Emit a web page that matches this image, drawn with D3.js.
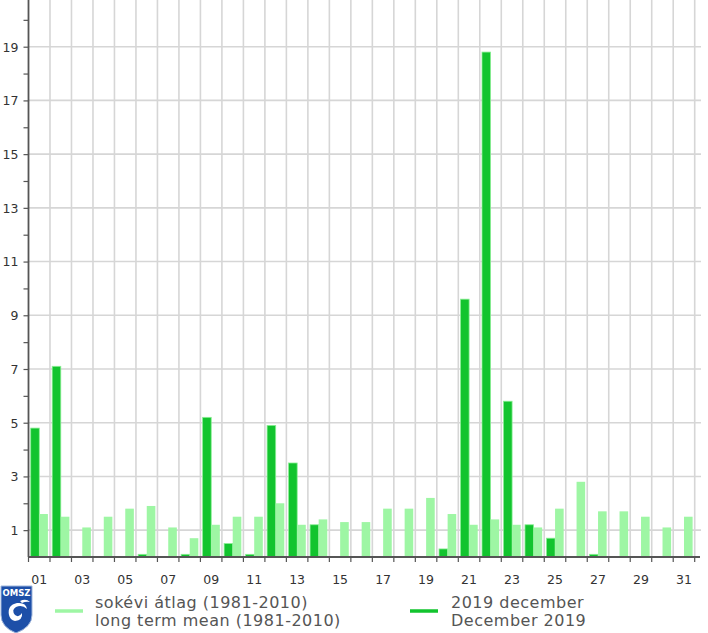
<!DOCTYPE html>
<html>
<head>
<meta charset="utf-8">
<script src="https://cdn.jsdelivr.net/npm/d3@7/dist/d3.min.js"></script>
<style>
  html, body { margin: 0; padding: 0; background: #fff; }
  svg { display: block; }
</style>
</head>
<body>
<svg id="chart" width="708" height="633"></svg>
<script>
// ---- DATA ----
const days = ["01","02","03","04","05","06","07","08","09","10","11","12","13","14","15","16","17","18","19","20","21","22","23","24","25","26","27","28","29","30","31"];
const dec2019 = [4.8, 7.1, 0, 0, 0, 0.1, 0, 0.1, 5.2, 0.5, 0.1, 4.9, 3.5, 1.2, 0, 0, 0, 0, 0, 0.3, 9.6, 18.8, 5.8, 1.2, 0.7, 0, 0.1, 0, 0, 0, 0];
const longTermMean = [1.6, 1.5, 1.1, 1.5, 1.8, 1.9, 1.1, 0.7, 1.2, 1.5, 1.5, 2.0, 1.2, 1.4, 1.3, 1.3, 1.8, 1.8, 2.2, 1.6, 1.2, 1.4, 1.2, 1.1, 1.8, 2.8, 1.7, 1.7, 1.5, 1.1, 1.5];
const yTicks = [1,2,3,4,5,6,7,8,9,10,11,12,13,14,15,16,17,18,19,20];
const yLabelTicks = [1,3,5,7,9,11,13,15,17,19];
const xLabelDays = ["01","03","05","07","09","11","13","15","17","19","21","23","25","27","29","31"];
const seriesKeys = ["obs", "mean"];
const legendLabels = [
  ["sokévi átlag (1981-2010)", "long term mean (1981-2010)"],
  ["2019 december", "December 2019"]
];

// ---- STYLE ----
const COL_OBS = "#12c42e";
const COL_MEAN = "#9ef6a4";
const GRID = "#d6d6d6";
const AXIS = "#555";
const FONT = "'DejaVu Sans', Verdana, sans-serif";

const svg = d3.select("#chart");
const mLeft = 28.5, mRight = 700, bandRight = 694.7, mBottom = 557, mTop = 0;

const x = d3.scaleBand().domain(days).range([mLeft, bandRight]).padding(0);
const x1 = d3.scaleBand().domain(seriesKeys).range([2.2, 19.4]).padding(0);
const y = d3.scaleLinear().domain([0, 19]).range([mBottom, 46.7]);

// grid: horizontal at odd values
svg.append("g").selectAll("line").data(yLabelTicks).join("line")
  .attr("x1", mLeft).attr("x2", mRight + 1)
  .attr("y1", d => y(d)).attr("y2", d => y(d))
  .attr("stroke", GRID).attr("stroke-width", 1.6);

// grid: vertical at band boundaries
const boundaries = days.map(d => x(d)).slice(1).concat([x(days[days.length-1]) + x.bandwidth()]);
svg.append("g").selectAll("line").data(boundaries).join("line")
  .attr("x1", d => d).attr("x2", d => d)
  .attr("y1", mTop).attr("y2", mBottom)
  .attr("stroke", GRID).attr("stroke-width", 1.6);

// bars
const rows = days.map((d, i) => ({day: d, obs: dec2019[i], mean: longTermMean[i]}));
const gBars = svg.append("g");
rows.forEach(r => {
  seriesKeys.forEach(k => {
    const v = r[k];
    if (v <= 0) return;
    gBars.append("rect")
      .attr("x", x(r.day) + x1(k))
      .attr("width", x1.bandwidth())
      .attr("y", y(v))
      .attr("height", y(0) - y(v))
      .attr("fill", k === "obs" ? COL_OBS : COL_MEAN)
      .attr("stroke", k === "obs" ? "#8aee94" : "none")
      .attr("stroke-width", k === "obs" ? 0.8 : 0);
  });
});

// y axis
const yAxis = d3.axisLeft(y).tickValues(yTicks).tickSize(5)
  .tickFormat(d => yLabelTicks.includes(d) ? d : "");
const gy = svg.append("g").attr("transform", `translate(${mLeft},0)`).call(yAxis);
gy.select(".domain").remove();
gy.selectAll(".tick line").attr("stroke", AXIS).attr("stroke-width", 1.2);
gy.selectAll(".tick text").attr("font-family", FONT).attr("font-size", 12.5)
  .attr("fill", "#333").attr("x", -10).attr("dy", "0.35em");
svg.append("line").attr("x1", mLeft).attr("x2", mLeft).attr("y1", mTop).attr("y2", mBottom)
  .attr("stroke", AXIS).attr("stroke-width", 1.8);

// x axis
svg.append("line").attr("x1", mLeft).attr("x2", mRight).attr("y1", mBottom).attr("y2", mBottom)
  .attr("stroke", AXIS).attr("stroke-width", 1.8);
const allBounds = [x(days[0])].concat(boundaries);
svg.append("g").selectAll("line").data(allBounds).join("line")
  .attr("x1", d => d).attr("x2", d => d)
  .attr("y1", mBottom).attr("y2", mBottom + 5)
  .attr("stroke", AXIS).attr("stroke-width", 1.2);
svg.append("g").selectAll("text").data(xLabelDays).join("text")
  .attr("x", d => x(d) + x.bandwidth() / 2)
  .attr("y", 583.5)
  .attr("text-anchor", "middle")
  .attr("font-family", FONT).attr("font-size", 12.5).attr("fill", "#333")
  .text(d => d);

// legend
const legend = svg.append("g");
const legendItems = [
  {color: COL_MEAN, lx: 55, tx: 95, lines: legendLabels[0]},
  {color: COL_OBS, lx: 410, tx: 451, lines: legendLabels[1]}
];
legendItems.forEach(it => {
  legend.append("line").attr("x1", it.lx).attr("x2", it.lx + 28)
    .attr("y1", 611).attr("y2", 611)
    .attr("stroke", it.color).attr("stroke-width", 3.5);
  it.lines.forEach((t, i) => {
    legend.append("text").attr("x", it.tx).attr("y", 607.5 + i * 18)
      .attr("font-family", FONT).attr("font-size", 16).attr("letter-spacing", 0.5)
      .attr("fill", "#555")
      .text(t);
  });
});

// logo (OMSZ emblem)
const logo = svg.append("g").attr("transform", "translate(0,585)");
logo.append("path")
  .attr("d", "M1,1 L32,1 L32,30 Q32,42 16,48 Q1,42 1,30 Z")
  .attr("fill", "#1d4fa8").attr("stroke", "#9fb6dc").attr("stroke-width", 1);
logo.append("text").attr("x", 16.5).attr("y", 11).attr("text-anchor", "middle")
  .attr("font-family", FONT).attr("font-size", 8.5).attr("font-weight", "bold")
  .attr("fill", "#fff").text("OMSZ");
logo.append("path")
  .attr("d", "M9,30 Q7,20 17,18 Q26,17 27,24 Q22,19 16,22 Q11,25 15,30 Q19,33 22,28 Q23,35 15,36 Q10,35 9,30 Z")
  .attr("fill", "#fff");
logo.append("path")
  .attr("d", "M20,16 Q26,13 30,17 Q26,16 22,18 Z")
  .attr("fill", "#fff");
</script>
</body>
</html>
